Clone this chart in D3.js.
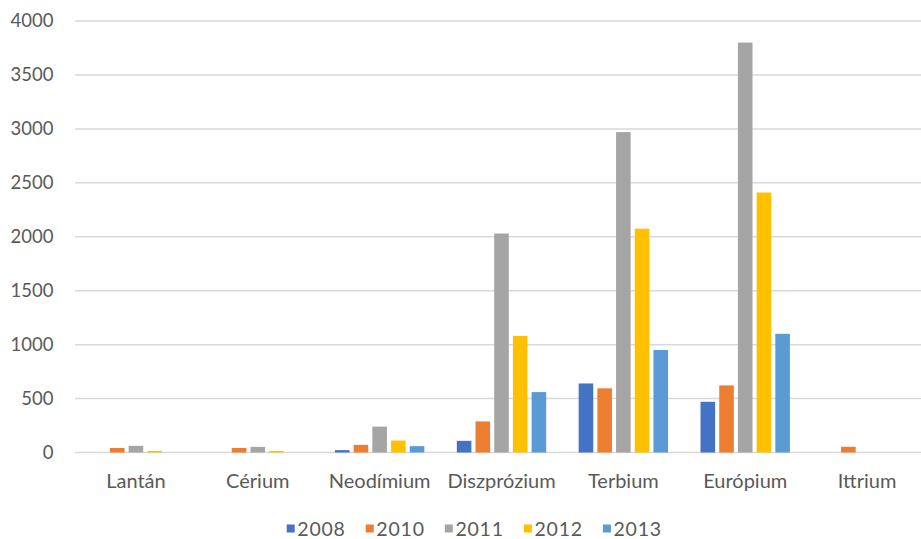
<!DOCTYPE html>
<html>
<head>
<meta charset="utf-8">
<script src="https://cdn.jsdelivr.net/npm/d3@7"></script>
<style>
  body { margin: 0; background: #fff; }
  text { font-family: Lato, "Open Sans", sans-serif; fill: #595959; }
</style>
</head>
<body>
<div id="chart"></div>
<script>
const categories = ["Lantán", "Cérium", "Neodímium", "Diszprózium", "Terbium", "Európium", "Ittrium"];
const years = ["2008", "2010", "2011", "2012", "2013"];
const v2008 = [0, 0, 22, 108, 640, 470, 0];
const v2010 = [42, 42, 71, 288, 595, 622, 53];
const v2011 = [62, 52, 240, 2030, 2970, 3800, 0];
const v2012 = [15, 15, 111, 1080, 2075, 2410, 0];
const v2013 = [0, 0, 59, 560, 950, 1100, 0];
const yTicks = [0, 500, 1000, 1500, 2000, 2500, 3000, 3500, 4000];
const colors = ["#4472C4", "#ED7D31", "#A5A5A5", "#FFC000", "#5B9BD5"];

const series = [v2008, v2010, v2011, v2012, v2013];
const rows = categories.map((c, i) => ({
  category: c,
  values: years.map((y, j) => ({ year: y, value: series[j][i] }))
}));

const width = 921, height = 539;

const svg = d3.select("#chart")
  .append("svg")
  .attr("width", width)
  .attr("height", height);

const x0 = d3.scaleBand()
  .domain(categories)
  .range([75, 928]);

const x1 = d3.scaleBand()
  .domain(years)
  .range([-46.75, 46.75])
  .paddingInner(0.22)
  .paddingOuter(0.11);

const y = d3.scaleLinear()
  .domain([0, 4000])
  .range([452.5, 21]);

const color = d3.scaleOrdinal()
  .domain(years)
  .range(colors);

// gridlines
svg.append("g")
  .selectAll("line")
  .data(yTicks)
  .enter()
  .append("line")
  .attr("x1", 75)
  .attr("x2", width)
  .attr("y1", d => y(d))
  .attr("y2", d => y(d))
  .attr("stroke", "#d9d9d9")
  .attr("stroke-width", 1.5);

// y axis labels
const yAxis = d3.axisLeft(y)
  .tickValues(yTicks)
  .tickFormat(d3.format("d"))
  .tickSize(0)
  .tickPadding(0);
svg.append("g")
  .attr("transform", "translate(53.5,0)")
  .call(yAxis)
  .call(g => g.select(".domain").remove())
  .selectAll("text")
  .style("font-size", "18.5px")
  .style("font-family", "Lato, sans-serif")
  .attr("fill", "#595959");

// bars
const groups = svg.append("g")
  .selectAll("g")
  .data(rows)
  .enter()
  .append("g")
  .attr("transform", d => "translate(" + (x0(d.category) + x0.bandwidth() / 2) + ",0)");

groups.selectAll("rect")
  .data(d => d.values)
  .enter()
  .append("rect")
  .attr("x", d => x1(d.year))
  .attr("width", x1.bandwidth())
  .attr("y", d => y(d.value))
  .attr("height", d => y(0) - y(d.value))
  .attr("fill", d => color(d.year));

// x axis labels
const xAxis = d3.axisBottom(x0).tickSize(0).tickPadding(0);
svg.append("g")
  .attr("transform", "translate(0,481)")
  .call(xAxis)
  .call(g => g.select(".domain").remove())
  .selectAll("text")
  .attr("dy", "0.35em")
  .style("font-size", "20px")
  .style("font-family", "Lato, sans-serif")
  .attr("fill", "#595959");

// legend
const legend = svg.append("g").attr("class", "legend");
const items = legend.selectAll("g")
  .data(years)
  .enter()
  .append("g");

items.append("rect")
  .attr("width", 8)
  .attr("height", 8)
  .attr("y", -4)
  .attr("fill", color);

items.append("text")
  .attr("x", 10.6)
  .attr("dy", "0.36em")
  .style("font-size", "19.5px")
  .style("letter-spacing", "0.8px")
  .text(d => d);

let xPos = 0;
items.each(function () {
  const w = d3.select(this).select("text").node().getComputedTextLength();
  d3.select(this).attr("transform", "translate(" + xPos + ",0)");
  xPos += 10.6 + w + 20;
});
legend.attr("transform", "translate(286.7,528.5)");
</script>
</body>
</html>
